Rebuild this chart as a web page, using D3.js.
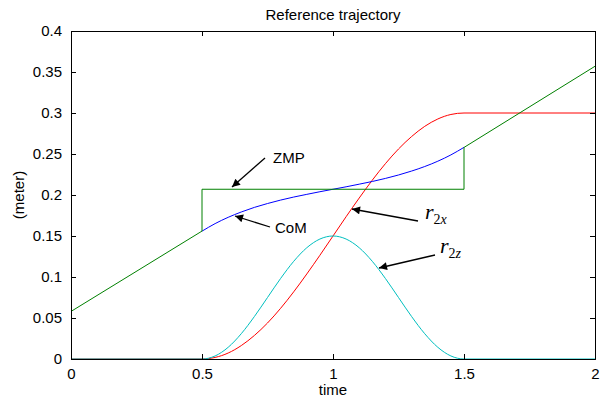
<!DOCTYPE html>
<html>
<head>
<meta charset="utf-8">
<script src="https://cdn.jsdelivr.net/npm/d3@7"></script>
<style>
  body { margin: 0; background: #fff; }
  svg { font-family: "Liberation Sans", Arial, sans-serif; }
</style>
</head>
<body>
<div id="chart"></div>
<script>
// time samples for the swing part (0.5 .. 1.5)
var tSwing = [0.5, 0.55, 0.6, 0.65, 0.7, 0.75, 0.8, 0.85, 0.9, 0.95, 1.0,
              1.05, 1.1, 1.15, 1.2, 1.25, 1.3, 1.35, 1.4, 1.45, 1.5];

// ZMP (green) - piecewise
var zmpT = [0, 0.5, 0.5, 1.5, 1.5, 2];
var zmpV = [0.058, 0.156, 0.207, 0.207, 0.258, 0.357];

// CoM (blue) between 0.5 and 1.5
var comV = [0.1559, 0.1651, 0.1728, 0.1793, 0.1849, 0.1896, 0.1938, 0.1975, 0.2008, 0.2040, 0.207,
            0.2100, 0.2132, 0.2165, 0.2202, 0.2244, 0.2292, 0.2347, 0.2412, 0.2489, 0.2581];

// r2x (red)
var r2xV = [0, 0.0019, 0.0073, 0.0164, 0.0287, 0.0439, 0.0618, 0.0819, 0.1037, 0.1265, 0.15,
            0.1735, 0.1963, 0.2181, 0.2382, 0.2561, 0.2713, 0.2837, 0.2927, 0.2982, 0.3];

// r2z (cyan)
var r2zV = [0, 0.0037, 0.0143, 0.0309, 0.0518, 0.075, 0.0982, 0.1191, 0.1357, 0.1463, 0.15,
            0.1463, 0.1357, 0.1191, 0.0982, 0.075, 0.0518, 0.0309, 0.0143, 0.0037, 0];

var xTicks = [0, 0.5, 1, 1.5, 2];
var yTicks = [0, 0.05, 0.1, 0.15, 0.2, 0.25, 0.3, 0.35, 0.4];

var width = 610, height = 402;
var margin = {top: 31, right: 15, bottom: 43, left: 71};
var w = width - margin.left - margin.right;
var h = height - margin.top - margin.bottom;

var svg = d3.select("#chart").append("svg")
    .attr("width", width)
    .attr("height", height);

var g = svg.append("g")
    .attr("transform", "translate(" + margin.left + "," + margin.top + ")");

var x = d3.scaleLinear().domain([0, 2]).range([0, w]);
var y = d3.scaleLinear().domain([0, 0.4]).range([h, 0]);

var line = d3.line()
    .x(function(d) { return x(d[0]); })
    .y(function(d) { return y(d[1]); });

function pairs(ts, vs) {
    return ts.map(function(t, i) { return [t, vs[i]]; });
}

// red r2x: flat 0 before, flat 0.3 after
var redData = [[0, 0]].concat(pairs(tSwing, r2xV)).concat([[2, 0.3]]);
var cyanData = [[0, 0]].concat(pairs(tSwing, r2zV)).concat([[2, 0]]);
var blueData = pairs(tSwing, comV);
var greenData = pairs(zmpT, zmpV);

g.append("path").datum(redData)
    .attr("d", line.curve(d3.curveMonotoneX))
    .attr("fill", "none").attr("stroke", "#ff0000").attr("stroke-width", 1);

g.append("path").datum(cyanData)
    .attr("d", line.curve(d3.curveMonotoneX))
    .attr("fill", "none").attr("stroke", "#00bfbf").attr("stroke-width", 1);

g.append("path").datum(blueData)
    .attr("d", line.curve(d3.curveMonotoneX))
    .attr("fill", "none").attr("stroke", "#0000ff").attr("stroke-width", 1);

g.append("path").datum(greenData)
    .attr("d", line.curve(d3.curveLinear))
    .attr("fill", "none").attr("stroke", "#008000").attr("stroke-width", 1);

// axes (ticks pointing inward, MATLAB style)
var xAxis = g.append("g").attr("transform", "translate(0," + h + ")")
    .call(d3.axisBottom(x).tickValues(xTicks).tickSize(-5).tickPadding(9)
        .tickFormat(function(d) { return String(d); }));
var xTop = g.append("g")
    .call(d3.axisTop(x).tickValues(xTicks).tickSize(-5).tickFormat(""));
var yAxis = g.append("g")
    .call(d3.axisLeft(y).tickValues(yTicks).tickSize(-5).tickPadding(9)
        .tickFormat(function(d) { return String(d); }));
var yRight = g.append("g").attr("transform", "translate(" + w + ",0)")
    .call(d3.axisRight(y).tickValues(yTicks).tickSize(-5).tickFormat(""));

[xAxis, xTop, yAxis, yRight].forEach(function(a) {
    a.select(".domain").attr("stroke", "#000");
    a.selectAll(".tick line").attr("stroke", "#000");
    a.selectAll("text").attr("font-size", "15px").attr("fill", "#000")
        .attr("font-family", "Liberation Sans, Arial, sans-serif");
});

// titles
svg.append("text")
    .attr("x", margin.left + w / 2).attr("y", 20)
    .attr("text-anchor", "middle").attr("font-size", "15px")
    .text("Reference trajectory");

svg.append("text")
    .attr("x", margin.left + w / 2).attr("y", 395)
    .attr("text-anchor", "middle").attr("font-size", "15px")
    .text("time");

svg.append("text")
    .attr("transform", "translate(24," + (margin.top + h / 2) + ")rotate(-90)")
    .attr("text-anchor", "middle").attr("font-size", "15px")
    .text("(meter)");

// arrows
svg.append("defs").append("marker")
    .attr("id", "arr")
    .attr("viewBox", "0 0 10 10")
    .attr("refX", 10).attr("refY", 5)
    .attr("markerWidth", 10).attr("markerHeight", 8)
    .attr("markerUnits", "userSpaceOnUse")
    .attr("orient", "auto")
    .append("path").attr("d", "M0,0 L10,5 L0,10 z").attr("fill", "#000");

var notes = [
    {x1: 265, y1: 158, x2: 232, y2: 187},
    {x1: 270, y1: 227, x2: 235, y2: 216},
    {x1: 418, y1: 221, x2: 352, y2: 209},
    {x1: 435, y1: 255, x2: 379, y2: 268}
];
notes.forEach(function(n) {
    svg.append("line")
        .attr("x1", n.x1).attr("y1", n.y1).attr("x2", n.x2).attr("y2", n.y2)
        .attr("stroke", "#000").attr("stroke-width", 1.3)
        .attr("marker-end", "url(#arr)");
});

svg.append("text").attr("x", 273).attr("y", 163).attr("font-size", "15px").text("ZMP");
svg.append("text").attr("x", 275).attr("y", 233).attr("font-size", "15px").text("CoM");

function rLabel(xp, yp, sub) {
    var t = svg.append("text").attr("x", xp).attr("y", yp)
        .attr("font-family", "Liberation Serif, Times New Roman, serif")
        .attr("font-style", "italic").attr("font-size", "22px");
    t.append("tspan").text("r");
    t.append("tspan").attr("dy", 5).attr("font-size", "14px").attr("font-style", "normal").text("2");
    t.append("tspan").attr("font-size", "14px").text(sub);
}
rLabel(425, 219, "x");
rLabel(440, 253, "z");
</script>
</body>
</html>
